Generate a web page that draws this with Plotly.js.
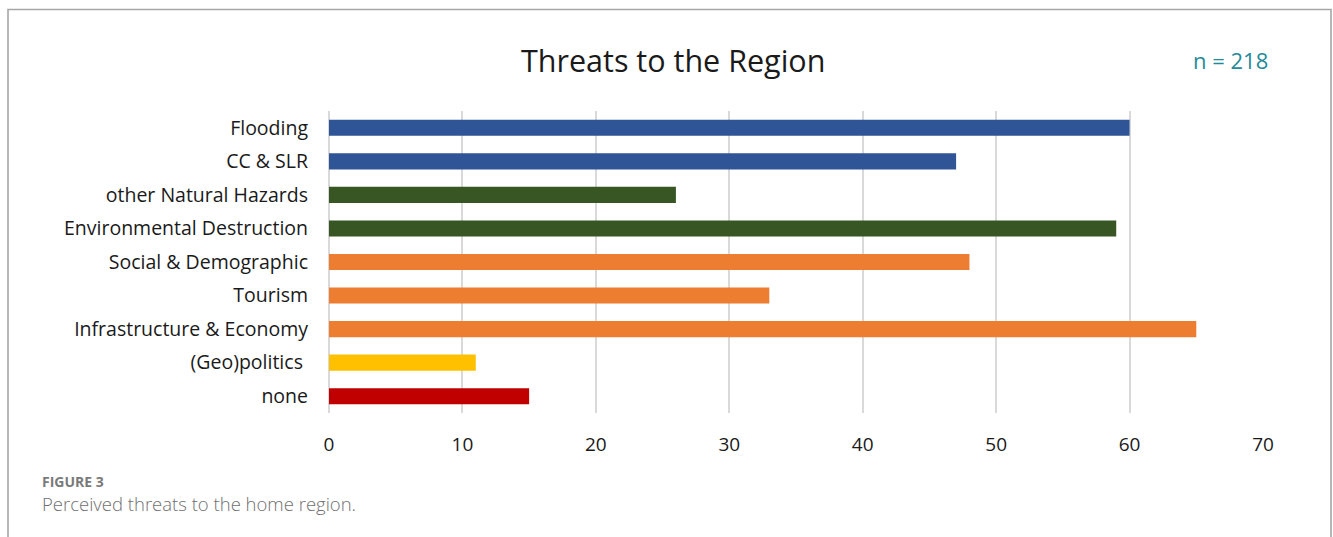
<!DOCTYPE html>
<html>
<head>
<meta charset="utf-8">
<script src="https://cdn.plot.ly/plotly-3.0.1.min.js"></script>
<style>
  html, body { margin: 0; padding: 0; background: #ffffff; }
  #chart { width: 1333px; height: 537px; }
</style>
</head>
<body>
<div id="chart"></div>
<script>
// Threat categories, top to bottom
const categories = [
  "Flooding",
  "CC & SLR",
  "other Natural Hazards",
  "Environmental Destruction",
  "Social & Demographic",
  "Tourism",
  "Infrastructure & Economy",
  "(Geo)politics\u00a0",
  "none"
];
// Number of respondents naming each threat
const counts = [60, 47, 26, 59, 48, 33, 65, 11, 15];
// Bar colour per threat group
const barColors = [
  "#2F5597", "#2F5597",
  "#375623", "#375623",
  "#ED7D31", "#ED7D31", "#ED7D31",
  "#FFC000",
  "#C00000"
];
const xTicks = [0, 10, 20, 30, 40, 50, 60, 70];

const chartTitle = "Threats to the Region";
const sampleNote = "n = 218";
const figLabel = "FIGURE 3";
const figCaption = "Perceived threats to the home region.";

const labelFont = "'Open Sans', Lato, sans-serif";

const trace = {
  type: "bar",
  orientation: "h",
  x: counts,
  y: categories,
  marker: { color: barColors, line: { width: 0 } },
  hoverinfo: "x+y"
};

// plot area spans 329..1263 px horizontally and 111..413 px vertically
const L = 329, R = 70, T = 111, B = 124, W = 1333, H = 537;
const pw = W - L - R, ph = H - T - B;
const px = v => (v - L) / pw;
const py = v => (H - B - v) / ph;

const layout = {
  width: W,
  height: H,
  margin: { l: L, r: R, t: T, b: B, pad: 0 },
  paper_bgcolor: "#ffffff",
  plot_bgcolor: "#ffffff",
  showlegend: false,
  bargap: 0.52,
  font: { family: labelFont, color: "#1a1a1a", size: 18 },
  xaxis: {
    range: [0, 70],
    tickvals: xTicks,
    ticktext: xTicks.map(String),
    showgrid: true,
    gridcolor: "#D9D9D9",
    gridwidth: 2,
    zeroline: false,
    showline: false,
    ticks: "",
    ticklabelstandoff: 18,
    tickfont: { family: labelFont, size: 19, color: "#1a1a1a" },
    fixedrange: true
  },
  yaxis: {
    type: "category",
    autorange: "reversed",
    showgrid: false,
    zeroline: false,
    showline: false,
    ticks: "",
    ticklabelstandoff: 20,
    tickfont: { family: labelFont, size: 19.5, color: "#1a1a1a" },
    fixedrange: true
  },
  shapes: [
    {
      type: "path",
      xref: "paper", yref: "paper",
      path: `M ${px(8)} ${py(540)} L ${px(8)} ${py(9.5)} L ${px(1331)} ${py(9.5)} L ${px(1331)} ${py(540)}`,
      line: { color: "#A6A6A6", width: 1.6 },
      layer: "above"
    },
    {
      type: "line",
      xref: "paper", yref: "paper",
      x0: 0, x1: 0, y0: 0, y1: 1,
      line: { color: "#D9D9D9", width: 2 },
      layer: "below"
    }
  ],
  annotations: [
    {
      text: chartTitle,
      xref: "paper", yref: "paper",
      x: px(673), y: py(60),
      xanchor: "center", yanchor: "middle",
      showarrow: false,
      font: { family: labelFont, size: 30.5, color: "#1a1a1a" }
    },
    {
      text: sampleNote,
      xref: "paper", yref: "paper",
      x: px(1230), y: py(60),
      xanchor: "center", yanchor: "middle",
      showarrow: false,
      font: { family: labelFont, size: 22, color: "#1F8A99" }
    },
    {
      text: figLabel,
      xref: "paper", yref: "paper",
      x: px(40), y: py(481),
      xanchor: "left", yanchor: "middle",
      showarrow: false,
      font: { family: labelFont, size: 14, color: "#7a7a7a", weight: 700 }
    },
    {
      text: figCaption,
      xref: "paper", yref: "paper",
      x: px(40), y: py(504),
      xanchor: "left", yanchor: "middle",
      showarrow: false,
      font: { family: labelFont, size: 18.5, color: "#707070", weight: 300 }
    }
  ]
};

Plotly.newPlot("chart", [trace], layout, { displayModeBar: false, staticPlot: true });
</script>
</body>
</html>
